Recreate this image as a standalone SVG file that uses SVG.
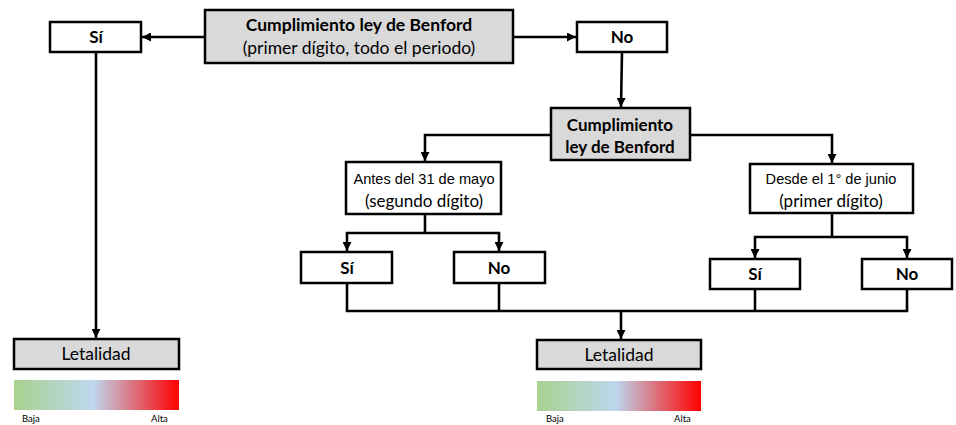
<svg xmlns="http://www.w3.org/2000/svg" width="956" height="425" viewBox="0 0 956 425">
<style>
.box{fill:#fff;stroke:#000;stroke-width:2.5}
.gbox{fill:#d9d9d9;stroke:#000;stroke-width:2.5}
.c{fill:none;stroke:#000;stroke-width:2.6}
.t{font-family:Lato,"Open Sans",sans-serif;fill:#000;text-anchor:middle}
.b{font-weight:bold;font-size:17px}
.a{font-family:"Liberation Sans",Arial,sans-serif;fill:#000;text-anchor:middle;font-size:14.6px}
.s{font-family:Lato,"Open Sans",sans-serif;font-size:9.5px;fill:#000}
</style>
<defs>
<marker id="ar" markerUnits="userSpaceOnUse" markerWidth="10" markerHeight="9" refX="9" refY="4.5" orient="auto">
<path d="M0,0 L9,4.5 L0,9 z" fill="#000"/>
</marker>
<linearGradient id="grad" x1="0" y1="0" x2="1" y2="0">
<stop offset="0" stop-color="#a9d18e"/>
<stop offset="0.48" stop-color="#bdd7ee"/>
<stop offset="1" stop-color="#ff0000"/>
</linearGradient>
</defs>
<g id="connectors">
<path class="c" d="M205,37 H142" marker-end="url(#ar)"/>
<path class="c" d="M513,37 H576" marker-end="url(#ar)"/>
<path class="c" d="M622,52 L621,107" marker-end="url(#ar)"/>
<path class="c" d="M551,135 H425 V161" marker-end="url(#ar)"/>
<path class="c" d="M690,135 H832 V163" marker-end="url(#ar)"/>
<path class="c" d="M425,214 V233"/>
<path class="c" d="M425,233 H347 V251" marker-end="url(#ar)"/>
<path class="c" d="M425,233 H499 V251" marker-end="url(#ar)"/>
<path class="c" d="M832,213 V237"/>
<path class="c" d="M832,237 H755 V258" marker-end="url(#ar)"/>
<path class="c" d="M832,237 H907 V258" marker-end="url(#ar)"/>
<path class="c" d="M347,283 V311 H907 V289"/>
<path class="c" d="M499,283 V311"/>
<path class="c" d="M755,289 V311"/>
<path class="c" d="M621,311 V339" marker-end="url(#ar)"/>
<path class="c" d="M96,52 V338" marker-end="url(#ar)"/>
</g>
<g id="root">
<rect class="gbox" x="205" y="10" width="308" height="53"/>
<text class="t" x="359" y="31" font-size="17.5" font-weight="bold">Cumplimiento ley de Benford</text>
<text class="t" x="359" y="54" font-size="17.5">(primer dígito, todo el periodo)</text>
</g>
<g id="si_top">
<rect class="box" x="50" y="22" width="91" height="30"/>
<text class="t b" x="96" y="43">Sí</text>
</g>
<g id="no_top">
<rect class="box" x="577" y="22" width="90" height="30"/>
<text class="t b" x="622" y="43">No</text>
</g>
<g id="cumpl2">
<rect class="gbox" x="551" y="108" width="139" height="52"/>
<text class="t b" x="620" y="131">Cumplimiento</text>
<text class="t b" x="620" y="153">ley de Benford</text>
</g>
<g id="antes">
<rect class="box" x="346" y="162" width="155" height="52"/>
<text class="a" x="424" y="184">Antes del 31 de mayo</text>
<text class="t" x="424" y="207" font-size="17">(segundo dígito)</text>
</g>
<g id="desde">
<rect class="box" x="750" y="164" width="163" height="49"/>
<text class="a" x="831" y="184">Desde el 1° de junio</text>
<text class="t" x="831" y="207" font-size="17">(primer dígito)</text>
</g>
<g id="si_mid">
<rect class="box" x="301" y="252" width="91" height="31"/>
<text class="t b" x="347" y="274">Sí</text>
</g>
<g id="no_mid">
<rect class="box" x="454" y="252" width="91" height="31"/>
<text class="t b" x="499" y="274">No</text>
</g>
<g id="si_right">
<rect class="box" x="710" y="259" width="90" height="30"/>
<text class="t b" x="755" y="280">Sí</text>
</g>
<g id="no_right">
<rect class="box" x="862" y="259" width="90" height="30"/>
<text class="t b" x="907" y="280">No</text>
</g>
<g id="letal_left">
<rect class="gbox" x="14" y="339" width="165" height="30"/>
<text class="t" x="96" y="360" font-size="17.5">Letalidad</text>
</g>
<g id="letal_right">
<rect class="gbox" x="537" y="340" width="164" height="29"/>
<text class="t" x="619" y="361" font-size="17.5">Letalidad</text>
</g>
<g id="scale_left">
<rect x="14" y="380" width="165" height="30" fill="url(#grad)"/>
<text class="s" x="22" y="422">Baja</text>
<text class="s" x="151" y="422">Alta</text>
</g>
<g id="scale_right">
<rect x="537" y="381" width="164" height="30" fill="url(#grad)"/>
<text class="s" x="546" y="422">Baja</text>
<text class="s" x="674" y="422">Alta</text>
</g>
</svg>
